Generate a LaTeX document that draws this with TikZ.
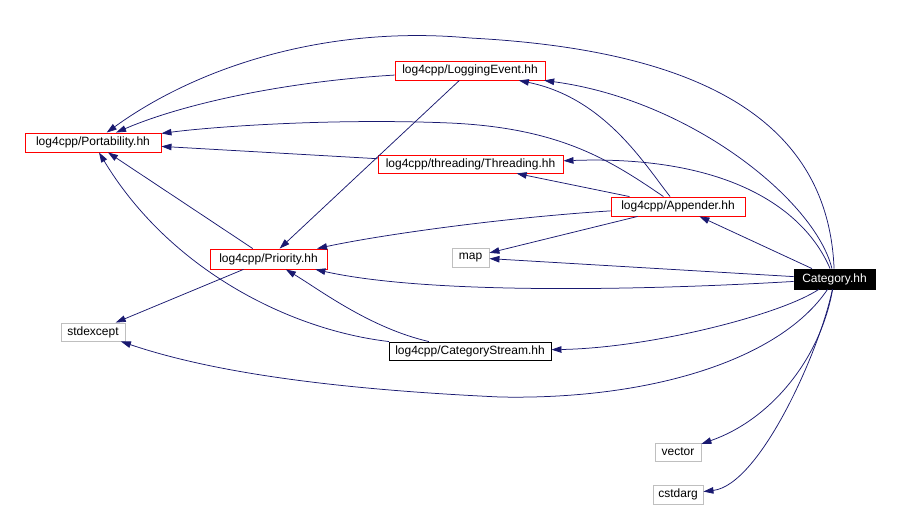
\documentclass[tikz,border=0pt]{standalone}
\usepackage{fontspec}
\setmainfont{Liberation Sans}
\usepackage{tikz}
\usetikzlibrary{arrows.meta}
\definecolor{EdgeBlue}{RGB}{25,25,112}
\definecolor{IncRed}{RGB}{255,0,0}
\definecolor{SysGray}{RGB}{191,191,191}

\begin{document}
\begin{tikzpicture}[
	x=1pt,y=-1pt,
	hdr/.style={draw,fill=white,line width=0.9pt,minimum height=19pt,inner sep=0pt,font=\fontsize{12}{14}\selectfont},
	redhdr/.style={hdr,draw=IncRed},
	plainhdr/.style={hdr,draw=black},
	syshdr/.style={hdr,draw=SysGray},
	mainhdr/.style={hdr,draw=black,fill=black,text=white},
	incl/.style={draw=EdgeBlue,line width=0.75pt,-{Triangle[length=10pt,width=6.5pt]}}
	]
				
				\useasboundingbox (0,0) rectangle (900,507);
				
				\node[
				mainhdr,
				minimum width=81pt,
				minimum height=20pt
				]
				(CAT) at (834.5,279)
				{Category.hh};
				
				\node[
				redhdr,
				minimum width=136pt
				]
				(PO) at (93,142.5)
				{log4cpp/Portability.hh};
				
				\node[
				redhdr,
				minimum width=150pt
				]
				(LE) at (470,70.5)
				{log4cpp/LoggingEvent.hh};
				
				\node[
				redhdr,
				minimum width=185pt,
				minimum height=18pt
				]
				(TH) at (470.5,164)
				{log4cpp/threading/Threading.hh};
				
				\node[
				redhdr,
				minimum width=134pt
				]
				(AP) at (678,206.5)
				{log4cpp/Appender.hh};
				
				\node[
				redhdr,
				minimum width=117pt,
				minimum height=20pt
				]
				(PR) at (268.5,259)
				{log4cpp/Priority.hh};
				
				\node[
				syshdr,
				minimum width=37pt
				]
				(MA) at (470.5,257.5)
				{map};
				
				\node[
				syshdr,
				minimum width=64pt,
				minimum height=18pt
				]
				(SE) at (93,332)
				{stdexcept};
				
				\node[
				plainhdr,
				minimum width=162pt,
				minimum height=18pt
				]
				(CS) at (470,351)
				{log4cpp/CategoryStream.hh};
				
				\node[
				syshdr,
				minimum width=46pt,
				minimum height=18pt
				]
				(VE) at (678,452)
				{vector};
				
				\node[
				syshdr,
				minimum width=50pt
				]
				(CA) at (678,494.5)
				{cstdarg};
				
				% includes of Category.hh
				\draw[incl] (CAT) .. controls (828,120) and (700,50) .. (470,38)
				.. controls (330,25) and (200,65) .. (PO);
				\draw[incl] (CAT) .. controls (815,200) and (690,100) .. (LE);
				\draw[incl] (CAT) .. controls (805,210) and (730,155) .. (TH);
				\draw[incl] (CAT) -- (AP);
				\draw[incl] (CAT) -- (MA);
				\draw[incl] (CAT) .. controls (650,290) and (430,295) .. (PR);
				\draw[incl] (CAT) .. controls (780,315) and (650,348) .. (CS);
				\draw[incl] (CAT) .. controls (780,360) and (650,400) .. (500,397)
				.. controls (350,390) and (220,375) .. (SE);
				\draw[incl] (CAT) .. controls (820,360) and (770,420) .. (VE);
				\draw[incl] (CAT) .. controls (820,350) and (760,485) .. (CA);
				
				% the other headers
				\draw[incl] (LE) .. controls (280,82) and (180,105) .. (PO);
				\draw[incl] (LE) -- (PR);
				\draw[incl] (AP) .. controls (610,160) and (560,128) .. (450,123)
				.. controls (330,118) and (210,127) .. (PO);
				\draw[incl] (AP) .. controls (645,165) and (605,98) .. (LE);
				\draw[incl] (AP) -- (TH);
				\draw[incl] (AP) .. controls (500,218) and (380,235) .. (PR);
				\draw[incl] (AP) -- (MA);
				\draw[incl] (TH) -- (PO);
				\draw[incl] (PR) -- (PO);
				\draw[incl] (PR) -- (SE);
				\draw[incl] (CS) .. controls (290,330) and (170,270) .. (PO);
				\draw[incl] (CS) .. controls (370,328) and (320,290) .. (PR);
				
			\end{tikzpicture}
\end{document}
